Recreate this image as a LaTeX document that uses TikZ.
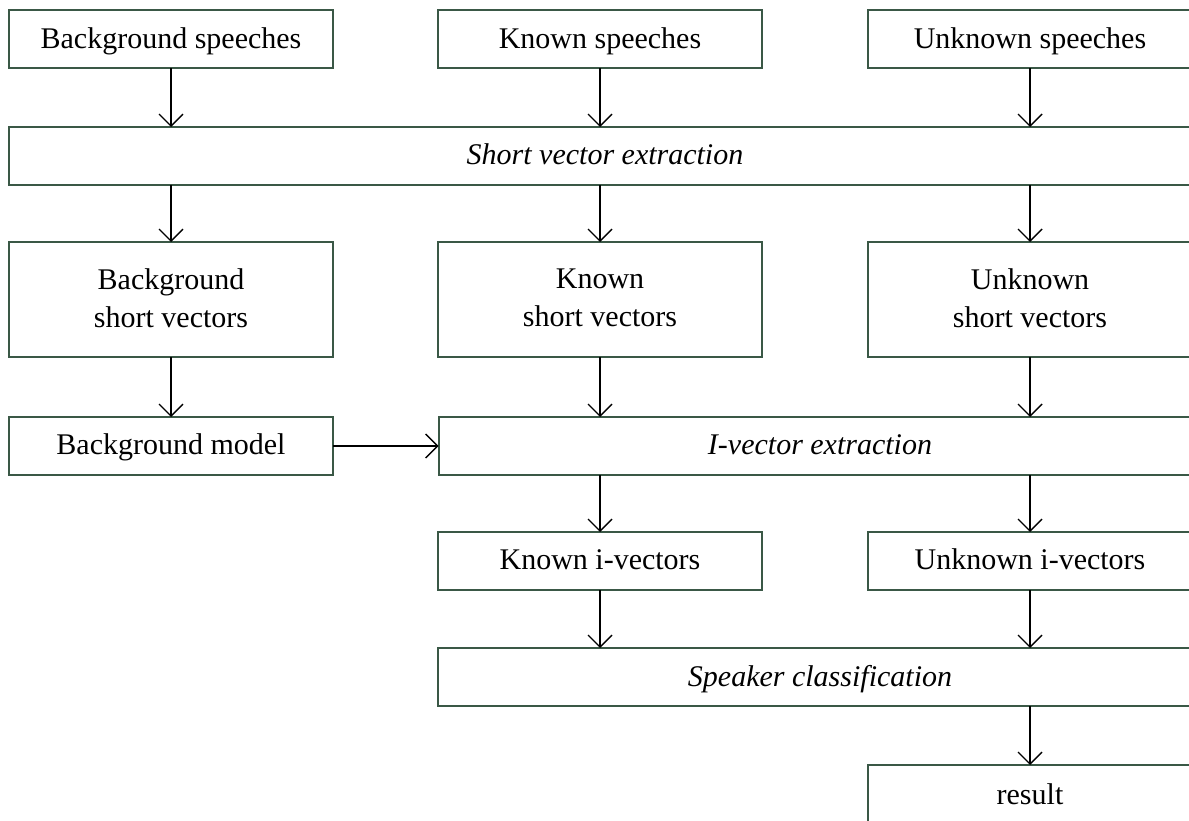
\documentclass[tikz,border=0pt]{standalone}
\usepackage{fontspec}
\setmainfont{Liberation Serif}
\usetikzlibrary{arrows.meta}
\definecolor{boxgreen}{RGB}{58,88,70}
\tikzset{
	box/.style={draw=boxgreen, line width=2pt, inner sep=0pt, outer sep=0pt, align=center, minimum width=324pt, minimum height=58pt, text depth=3pt},
	tall/.style={minimum height=115pt},
	arr/.style={-{Straight Barb[length=12pt,width=24pt,line width=1.4pt]}, line width=1.4pt}
}
\begin{document}
\begin{tikzpicture}[x=1pt, y=-1pt, font=\fontsize{30}{38}\selectfont]
		\useasboundingbox (0,0) rectangle (1189,821);

		% speeches
		\node[box]	(bgsp)	at (171,39.5)	{Background speeches};
		\node[box]	(knsp)	at (600,39.5)	{Known speeches};
		\node[box]	(unsp)	at (1030,39.5)	{Unknown speeches};

		% short vectors
		\node[box, minimum width=1192pt]	(sve)	at (605,156)	{\itshape Short vector extraction};
		\node[box, tall]	(bgsv)	at (171,299.5)	{Background\\short vectors};
		\node[box, tall]	(knsv)	at (600,299.5)	{Known\\short vectors};
		\node[box, tall]	(unsv)	at (1030,299.5)	{Unknown\\short vectors};

		% i-vectors
		\node[box]	(bgm)	at (171,446)	{Background model};
		\node[box, minimum width=763pt]	(ive)	at (820,446)	{\itshape I-vector extraction};
		\node[box]	(kniv)	at (600,561)	{Known i-vectors};
		\node[box]	(univ)	at (1030,561)	{Unknown i-vectors};

		% classification
		\node[box, minimum width=765pt]	(spc)	at (820,677)	{\itshape Speaker classification};
		\node[box, minimum height=62pt]	(res)	at (1030,796)	{result};

		% arrows
		\draw[arr]	(bgsp.south) -- (bgsp.south |- sve.north);
		\draw[arr]	(knsp.south) -- (knsp.south |- sve.north);
		\draw[arr]	(unsp.south) -- (unsp.south |- sve.north);
		\draw[arr]	(bgsv.north |- sve.south) -- (bgsv.north);
		\draw[arr]	(knsv.north |- sve.south) -- (knsv.north);
		\draw[arr]	(unsv.north |- sve.south) -- (unsv.north);
		\draw[arr]	(bgsv.south) -- (bgm.north);
		\draw[arr]	(knsv.south) -- (knsv.south |- ive.north);
		\draw[arr]	(unsv.south) -- (unsv.south |- ive.north);
		\draw[arr]	(bgm.east) -- (ive.west);
		\draw[arr]	(kniv.north |- ive.south) -- (kniv.north);
		\draw[arr]	(univ.north |- ive.south) -- (univ.north);
		\draw[arr]	(kniv.south) -- (kniv.south |- spc.north);
		\draw[arr]	(univ.south) -- (univ.south |- spc.north);
		\draw[arr]	(res.north |- spc.south) -- (res.north);
	\end{tikzpicture}
\end{document}
